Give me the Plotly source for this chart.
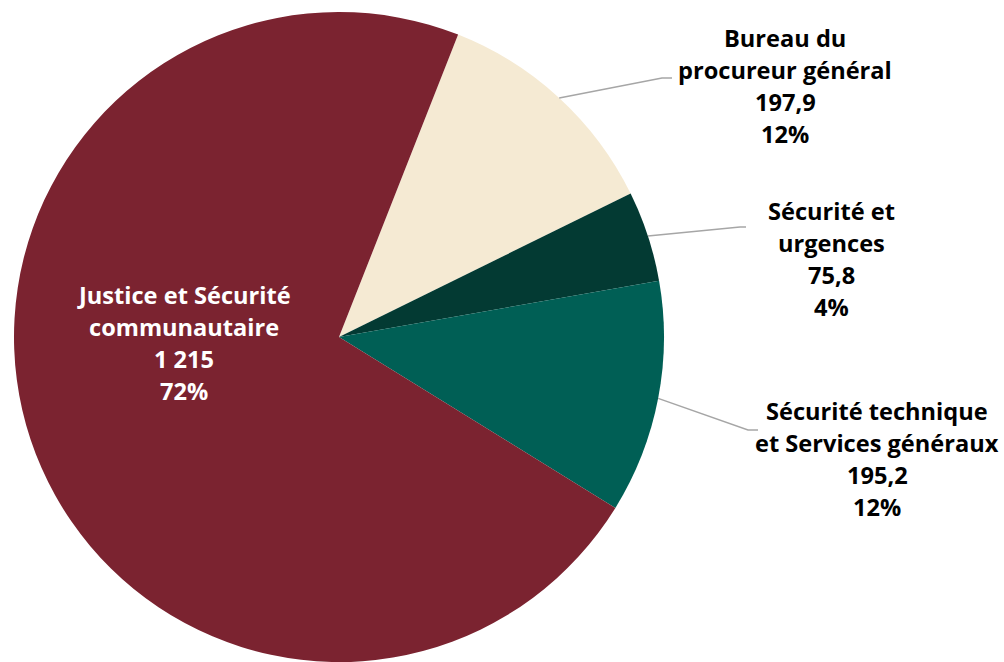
import math
import plotly.graph_objects as go

# ---- data ----
categories = ["Bureau du procureur général", "Sécurité et urgences",
              "Sécurité technique et Services généraux", "Justice et Sécurité communautaire"]
label_lines = [["Bureau du", "procureur général"],
               ["Sécurité et", "urgences"],
               ["Sécurité technique", "et Services généraux"],
               ["Justice et Sécurité", "communautaire"]]
values = [197.9, 75.8, 195.2, 1215]
value_text = ["197,9", "75,8", "195,2", "1 215"]
percent_text = ["12%", "4%", "12%", "72%"]
colors = ["#F5EAD3", "#033A33", "#005F55", "#7B2330"]

# ---- layout parameters (pixels) ----
W, H = 1004, 662
ROT = 21.5
R = 325
CX, CY = 339, H - R          # pie centre (pixels from top-left)
label_pos = [(785, 86), (831, 259), (877, 459), (184, 343)]   # label centres
elbows = [((662, 78), (672, 78)), ((740, 227), (746, 227)), ((748, 430), (758, 430)), None]
text_colors = ["#000000", "#000000", "#000000", "#FFFFFF"]
FS = 23.6
LINE_H = 31.7


def px(x):
    return x / W


def py(y):
    return 1 - y / H


fig = go.Figure(go.Pie(
    labels=categories, values=values, sort=False, direction="clockwise",
    rotation=ROT, marker=dict(colors=colors, line=dict(width=0)),
    textinfo="none", hoverinfo="label+value+percent",
    domain=dict(x=[px(CX - R), px(CX + R)], y=[0, 2 * R / H]),
    showlegend=False,
))

annotations = []
shapes = []
total = sum(values)
cum = 0
for i, v in enumerate(values):
    mid = ROT + (cum + v / 2) / total * 360
    cum += v
    lines = label_lines[i] + [value_text[i], percent_text[i]]
    lx, ly = label_pos[i]
    n = len(lines)
    for k, t in enumerate(lines):
        yy = ly + (k - (n - 1) / 2) * LINE_H
        annotations.append(dict(
            x=px(lx), y=py(yy), xref="paper", yref="paper", text=t, showarrow=False,
            xanchor="center", yanchor="middle",
            font=dict(family="Open Sans", size=FS, color=text_colors[i], weight=700)))
    if elbows[i] is not None:
        a = math.radians(mid)
        sx = CX + R * math.sin(a)
        sy = CY - R * math.cos(a)
        (ex, ey), (tx, ty) = elbows[i]
        path = f"M {px(sx)},{py(sy)} L {px(ex)},{py(ey)} L {px(tx)},{py(ty)}"
        shapes.append(dict(type="path", xref="paper", yref="paper", path=path,
                           line=dict(color="#A6A6A6", width=1.5)))

fig.update_layout(
    width=W, height=H, margin=dict(l=0, r=0, t=0, b=0),
    paper_bgcolor="white", plot_bgcolor="white",
    annotations=annotations, shapes=shapes,
)

fig.write_html("out.html")
